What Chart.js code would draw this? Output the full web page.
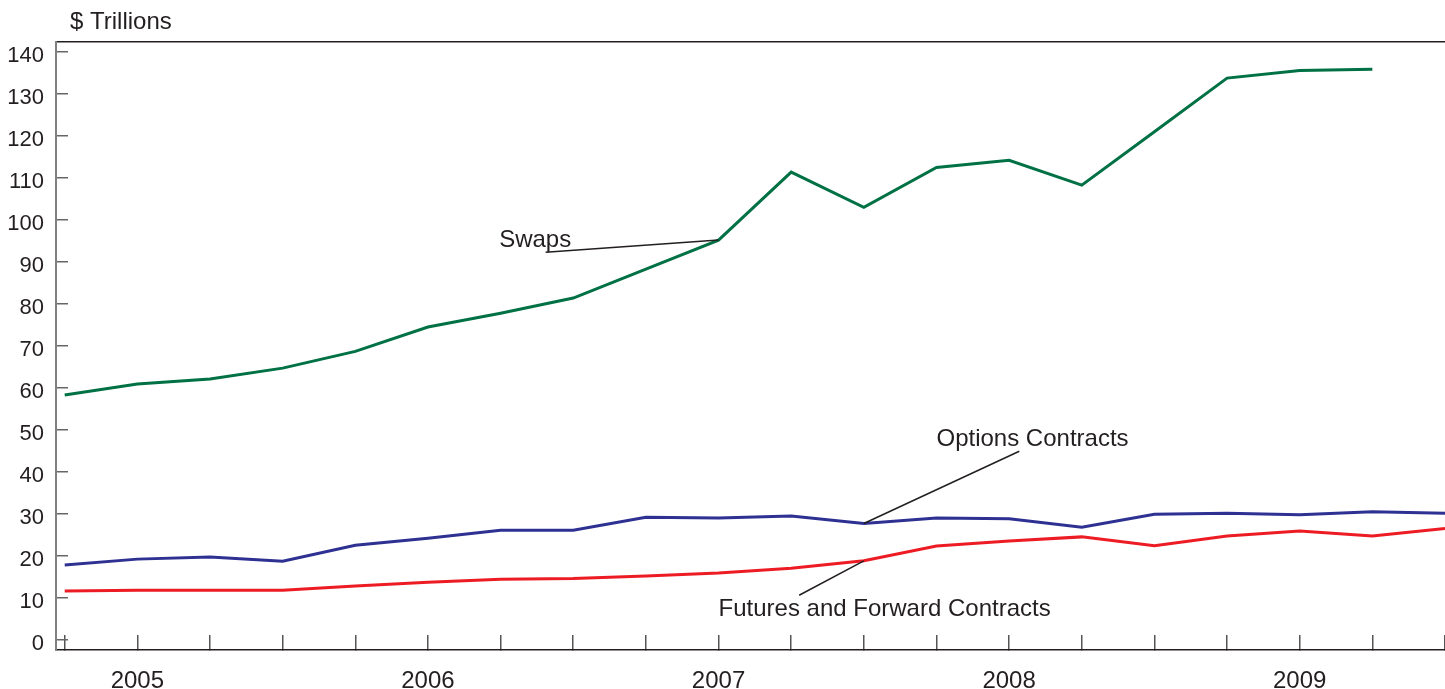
<!DOCTYPE html>
<html>
<head>
<meta charset="utf-8">
<title>OTC derivatives, notional amounts</title>
<script src="https://cdn.jsdelivr.net/npm/chart.js@4.4.1/dist/chart.umd.min.js"></script>
<style>
  html, body { margin: 0; padding: 0; background: #fff; overflow: hidden; }
  canvas { display: block; }
</style>
</head>
<body>
<canvas id="chart" width="1445" height="689"></canvas>
<script>
// datos trimestrales, 2004 T4 -> 2009 T3
const quarters = [0, 1, 2, 3, 4, 5, 6, 7, 8, 9, 10, 11, 12, 13, 14, 15, 16, 17, 18, 19];
const yearLabels = { 1: '2005', 5: '2006', 9: '2007', 13: '2008', 17: '2009' };
const yTicks = [0, 10, 20, 30, 40, 50, 60, 70, 80, 90, 100, 110, 120, 130, 140];

const swaps = [58.3, 60.9, 62.1, 64.7, 68.7, 74.5, 77.8, 81.4, 88.3, 95.2,
               111.4, 103.0, 112.5, 114.2, 108.3, 121.0, 133.8, 135.6, 135.9, null];
const options = [17.8, 19.2, 19.7, 18.7, 22.5, 24.2, 26.1, 26.1, 29.2, 29.0,
                 29.5, 27.7, 29.0, 28.8, 26.8, 29.9, 30.1, 29.8, 30.5, 30.1];
const futures = [11.6, 11.8, 11.8, 11.8, 12.8, 13.7, 14.4, 14.6, 15.2, 15.9,
                 17.0, 18.8, 22.3, 23.5, 24.5, 22.4, 24.7, 25.9, 24.7, 26.5];

// etiquetas con linea guia (posicion del texto en unidades de datos)
const callouts = [
  { text: 'Swaps', series: 0, idx: 9, tx: 5.98, ty: 95.2, lx: 6.62, ly: 92.3 },
  { text: 'Options Contracts', series: 1, idx: 11, tx: 12.0, ty: 47.8, lx: 13.14, ly: 44.9 },
  { text: 'Futures and Forward Contracts', series: 2, idx: 11, tx: 9.0, ty: 7.3, lx: 10.11, ly: 10.6 }
];

const INK = '#231f20';
const FAMILY = '"Liberation Sans", Arial, Helvetica, sans-serif';
Chart.defaults.font.family = FAMILY;
Chart.defaults.font.size = 22;
Chart.defaults.color = INK;

const toXY = arr => arr.map((v, i) => ({ x: quarters[i], y: v }));

const calloutPlugin = {
  id: 'callouts',
  afterDatasetsDraw(chart) {
    const { ctx, scales: { x, y }, chartArea } = chart;
    ctx.save();
    ctx.font = '24px ' + FAMILY;
    ctx.fillStyle = INK;
    ctx.textBaseline = 'middle';
    ctx.textAlign = 'left';
    ctx.fillText('$ Trillions', chartArea.left + 14, 22);

    ctx.strokeStyle = INK;
    ctx.lineWidth = 1.5;
    callouts.forEach(c => {
      const serie = chart.data.datasets[c.series].data[c.idx];
      ctx.beginPath();
      ctx.moveTo(x.getPixelForValue(c.lx), y.getPixelForValue(c.ly));
      ctx.lineTo(x.getPixelForValue(serie.x), y.getPixelForValue(serie.y));
      ctx.stroke();
      ctx.fillText(c.text, x.getPixelForValue(c.tx), y.getPixelForValue(c.ty));
    });
    ctx.restore();
  }
};

const lineDs = (label, arr, color) => ({
  label: label,
  data: toXY(arr),
  borderColor: color,
  backgroundColor: color,
  borderWidth: 3,
  pointRadius: 0,
  tension: 0,
  spanGaps: false
});

new Chart(document.getElementById('chart'), {
  type: 'line',
  data: {
    datasets: [
      lineDs('Swaps', swaps, '#007144'),
      lineDs('Options Contracts', options, '#2e3192'),
      lineDs('Futures and Forward Contracts', futures, '#ed1c24')
    ]
  },
  options: {
    responsive: false,
    animation: false,
    layout: { padding: { top: 42, right: 0, left: 0, bottom: 0 } },
    plugins: { legend: { display: false }, tooltip: { enabled: false } },
    scales: {
      x: {
        type: 'linear',
        min: -0.12,
        max: 19,
        afterBuildTicks: s => { s.ticks = quarters.map(v => ({ value: v })); },
        afterFit: s => { s.height = 39; s.paddingLeft = 0; s.paddingRight = 0; },
        grid: { drawOnChartArea: false, tickLength: -15, color: '#555', lineWidth: 1.5 },
        border: { color: INK, width: 1.5 },
        ticks: {
          padding: 32,
          font: { size: 24 },
          maxRotation: 0,
          autoSkip: false,
          callback: v => yearLabels[v] || ''
        }
      },
      xTop: {
        type: 'linear',
        position: 'top',
        min: -0.12,
        max: 19,
        afterFit: s => { s.height = 0; s.paddingLeft = 0; s.paddingRight = 0; },
        grid: { drawOnChartArea: false, drawTicks: false },
        border: { color: INK, width: 1.5 },
        ticks: { display: false }
      },
      y: {
        min: -2.45,
        max: 142.4,
        afterBuildTicks: s => { s.ticks = yTicks.map(v => ({ value: v })); },
        afterFit: s => { s.width = 56; },
        grid: { drawOnChartArea: false, tickLength: -12, color: '#666', lineWidth: 1.5 },
        border: { color: '#808080', width: 2 },
        ticks: { padding: 24, labelOffset: 4 }
      }
    }
  },
  plugins: [calloutPlugin]
});
</script>
</body>
</html>
